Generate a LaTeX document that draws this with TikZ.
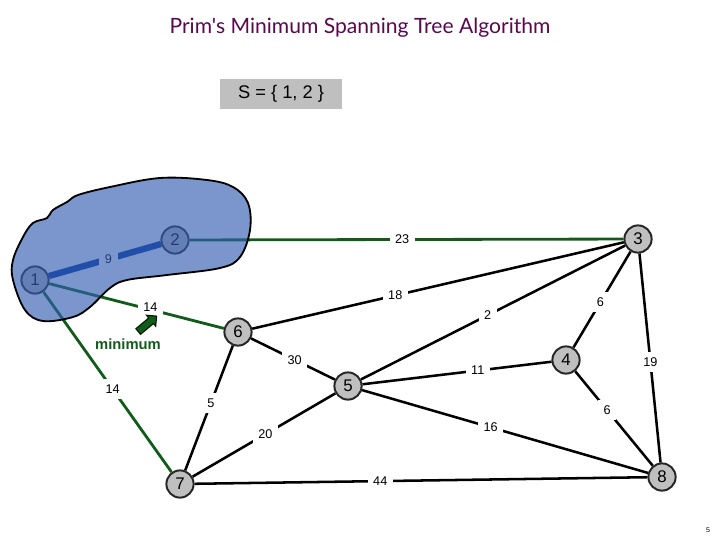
\documentclass[tikz,border=0pt]{standalone}
\usepackage{fontspec}
\setmainfont{Liberation Sans}
\newfontfamily\titlefont{Lato}
\usepackage{xcolor}
\usetikzlibrary{shapes,arrows,positioning}
\definecolor{treegreen}{RGB}{16,92,24}
\definecolor{setblue}{RGB}{0,50,150}
\definecolor{blobblue}{RGB}{51,94,178}
\definecolor{titlepurple}{RGB}{90,8,80}

\begin{document}
\begin{tikzpicture}[
    x=0.025cm, y=-0.025cm,
    vertex/.style={circle, draw=black!85, line width=1.4pt, fill=gray!50, minimum size=0.68cm, inner sep=0pt, font=\fontsize{12}{12}\selectfont},
    edge/.style={line width=1.8pt},
    tree/.style={line width=2pt, treegreen},
    wt/.style={fill=white, text=black, inner sep=4pt, font=\fontsize{9}{9}\selectfont}
]
\useasboundingbox (0,0) rectangle (720,540);

\node[font=\titlefont\fontsize{15}{15}\selectfont, text=titlepurple] (title) at (360,28) {Prim's Minimum Spanning Tree Algorithm};
\node[fill=gray!50, minimum width=3.05cm, minimum height=0.75cm, font=\fontsize{13}{13}\selectfont] (set) at (281,94) {S = \{ 1, 2 \}};

% vertices
\node[vertex] (v1) at (35,280) {1};
\node[vertex] (v2) at (175,240) {2};
\node[vertex] (v3) at (638,239) {3};
\node[vertex] (v4) at (566,360) {4};
\node[vertex] (v5) at (348,386) {5};
\node[vertex] (v6) at (238,332) {6};
\node[vertex] (v7) at (180,484) {7};
\node[vertex] (v8) at (662,477) {8};

% edges
\draw[line width=4.5pt, setblue] (v1) -- node[wt, pos=0.53] {9} (v2);
\draw[tree] (v2) -- node[wt, pos=0.49] {23} (v3);
\draw[tree] (v1) -- node[wt, pos=0.58, yshift=2pt] {14} (v6);
\draw[tree] (v1) -- node[wt, pos=0.54] {14} (v7);
\draw[edge] (v6) -- node[wt, pos=0.385] {18} (v3);
\draw[edge] (v5) -- node[wt, pos=0.48] {2} (v3);
\draw[edge] (v4) -- node[wt, pos=0.47] {6} (v3);
\draw[edge] (v3) -- node[wt, pos=0.52] {19} (v8);
\draw[edge] (v5) -- node[wt, pos=0.61] {11} (v4);
\draw[edge] (v4) -- node[wt, pos=0.41] {6} (v8);
\draw[edge] (v5) -- node[wt, pos=0.45] {16} (v8);
\draw[edge] (v6) -- node[wt, pos=0.52] {30} (v5);
\draw[edge] (v6) -- node[wt, pos=0.46] {5} (v7);
\draw[edge] (v7) -- node[wt, pos=0.51] {20} (v5);
\draw[edge] (v7) -- node[wt, pos=0.41] {44} (v8);

% the set S
\draw[black, line width=1.3pt, fill=blobblue, fill opacity=0.65]
    plot[smooth cycle, tension=0.6] coordinates {(78,195) (110,187) (160,178) (207,180) (233,187) (248,203) (250,230) (240,257) (220,268) (167,275) (127,280) (110,288) (90,307) (73,317) (43,321) (25,310) (13,280) (13,260) (23,237) (33,223) (47,218) (53,210) (67,202)};

\node[single arrow, draw=black!70!treegreen, line width=0.8pt, fill=treegreen, rotate=40, minimum height=0.6cm, inner sep=2.2pt, single arrow head extend=2.5pt] (hint) at (146,325) {};
\node[font=\bfseries\fontsize{10.5}{10.5}\selectfont, text=treegreen] (minlabel) at (128,344) {minimum};

\node[font=\fontsize{5}{5}\selectfont] (page) at (708,530) {5};
\end{tikzpicture}
\end{document}
